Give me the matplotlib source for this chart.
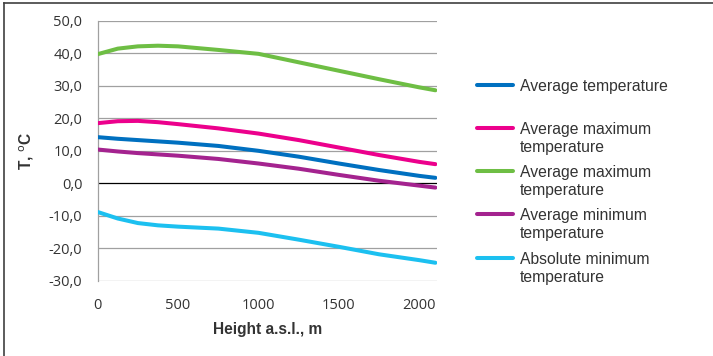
import numpy as np
import matplotlib.pyplot as plt
from matplotlib.lines import Line2D

# Alturas (m) y temperaturas
height = [0, 125, 250, 375, 500, 750, 1000, 1250, 1500, 1750, 2000, 2100]
t_avg = [14.2, 13.7, 13.3, 12.9, 12.5, 11.5, 10.0, 8.2, 6.1, 4.1, 2.3, 1.7]
t_avg_max = [18.5, 19.1, 19.2, 18.8, 18.2, 16.9, 15.3, 13.3, 11.0, 8.7, 6.6, 5.9]
t_abs_max = [39.7, 41.4, 42.1, 42.3, 42.1, 41.0, 39.8, 37.2, 34.6, 32.0, 29.5, 28.6]
t_avg_min = [10.4, 9.8, 9.3, 8.9, 8.5, 7.5, 6.1, 4.5, 2.6, 0.8, -0.7, -1.3]
t_abs_min = [-8.8, -10.8, -12.2, -12.9, -13.3, -13.9, -15.2, -17.3, -19.5, -21.8, -23.6, -24.4]

series = [t_avg, t_avg_max, t_abs_max, t_avg_min, t_abs_min]
labels = ['Average temperature', 'Average maximum\ntemperature',
          'Average maximum\ntemperature', 'Average minimum\ntemperature',
          'Absolute minimum\ntemperature']
colors = ['#0070C0', '#EC008C', '#6EBE44', '#A4238F', '#1CC0F0']

yticks = np.arange(-30, 51, 10)
xticks = [0, 500, 1000, 1500, 2000]

fig = plt.figure(figsize=(7.13, 3.56), dpi=100)
ax = fig.add_axes([0.137, 0.2107, 0.4755, 0.7313])

for y, c in zip(series, colors):
    ax.plot(height, y, color=c, lw=2.9, solid_capstyle='round',
            solid_joinstyle='round', zorder=3)

ax.set_xlim(0, 2108)
ax.set_ylim(-30, 50)
ax.set_yticks(yticks)
ax.set_yticklabels([f'{v:.1f}'.replace('.', ',') for v in yticks])
ax.set_xticks(xticks)
for y in yticks:
    ax.axhline(y, color='black' if y == 0 else '#A0A0A0', lw=0.9, zorder=1)
ax.tick_params(length=0, labelsize=10.5, colors='#333333', pad=11)
ax.tick_params(axis='x', pad=12)
for lab in ax.get_xticklabels() + ax.get_yticklabels():
    lab.set_family('Open Sans')
for s in ['top', 'right', 'bottom']:
    ax.spines[s].set_visible(False)
ax.spines['left'].set_color('#A0A0A0')
ax.spines['left'].set_linewidth(0.9)

ax.set_xlabel('Height a.s.l., m', fontsize=11.2, fontweight='bold',
              family='Liberation Sans', color='#333333', labelpad=7)
ax.set_ylabel('T, $^{\\rm o}$C', fontsize=11.2, fontweight='bold',
              family='Liberation Sans', color='#333333', labelpad=9)

# Leyenda manual
ys = [85, 128, 171, 214, 258]
for yy, lab, c in zip(ys, labels, colors):
    yf = 1 - yy / 356
    fig.add_artist(Line2D([477 / 713, 513 / 713], [yf, yf], color=c, lw=2.9,
                          solid_capstyle='round'))
    fig.text(520 / 713, yf + 6 / 356, lab, fontsize=11.3, family='Liberation Sans',
             color='#333333', va='top', ha='left', linespacing=1.27)

# Marco de la figura
fig.add_artist(Line2D([4 / 713, 1], [1 - 3 / 356, 1 - 3 / 356], color='#404040', lw=1.2))
fig.add_artist(Line2D([4 / 713, 4 / 713], [0, 1 - 3 / 356], color='#404040', lw=1.2))

fig.savefig('out.png', dpi=100)
